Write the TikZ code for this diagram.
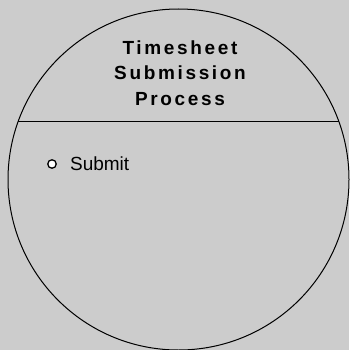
\documentclass[tikz,border=0pt]{standalone}
\usepackage{fontspec}
\setmainfont{Liberation Sans}
\newfontfamily\titlefont[LetterSpace=14]{Liberation Sans}
\usetikzlibrary{positioning}
\definecolor{canvas}{RGB}{204,204,204}
\begin{document}
\begin{tikzpicture}[
    x=1pt, y=-1pt,
    disc/.style={circle, draw, line width=1pt, minimum size=341pt, inner sep=0pt},
    title/.style={align=center, font=\titlefont\fontsize{19}{25.5}\selectfont\bfseries},
    bullet/.style={circle, draw, fill=white, line width=1.3pt, minimum size=8.5pt, inner sep=0pt},
    item/.style={inner sep=0pt, font=\fontsize{19}{22}\selectfont}
]
% Background
\fill[canvas] (0,0) rectangle (349,350);
\useasboundingbox (0,0) rectangle (349,350);

% Circle and chord
\node[disc] (process) at (178.5,179.5) {};
\draw[line width=1pt] (process.160) -- (process.20);

% Title
\node[title] (name) at (180,73) {Timesheet\\Submission\\Process};

% Items
\node[bullet] (submitdot) at (52,164) {};
\node[item, right=13pt of submitdot] (submit) {Submit};
\end{tikzpicture}
\end{document}
